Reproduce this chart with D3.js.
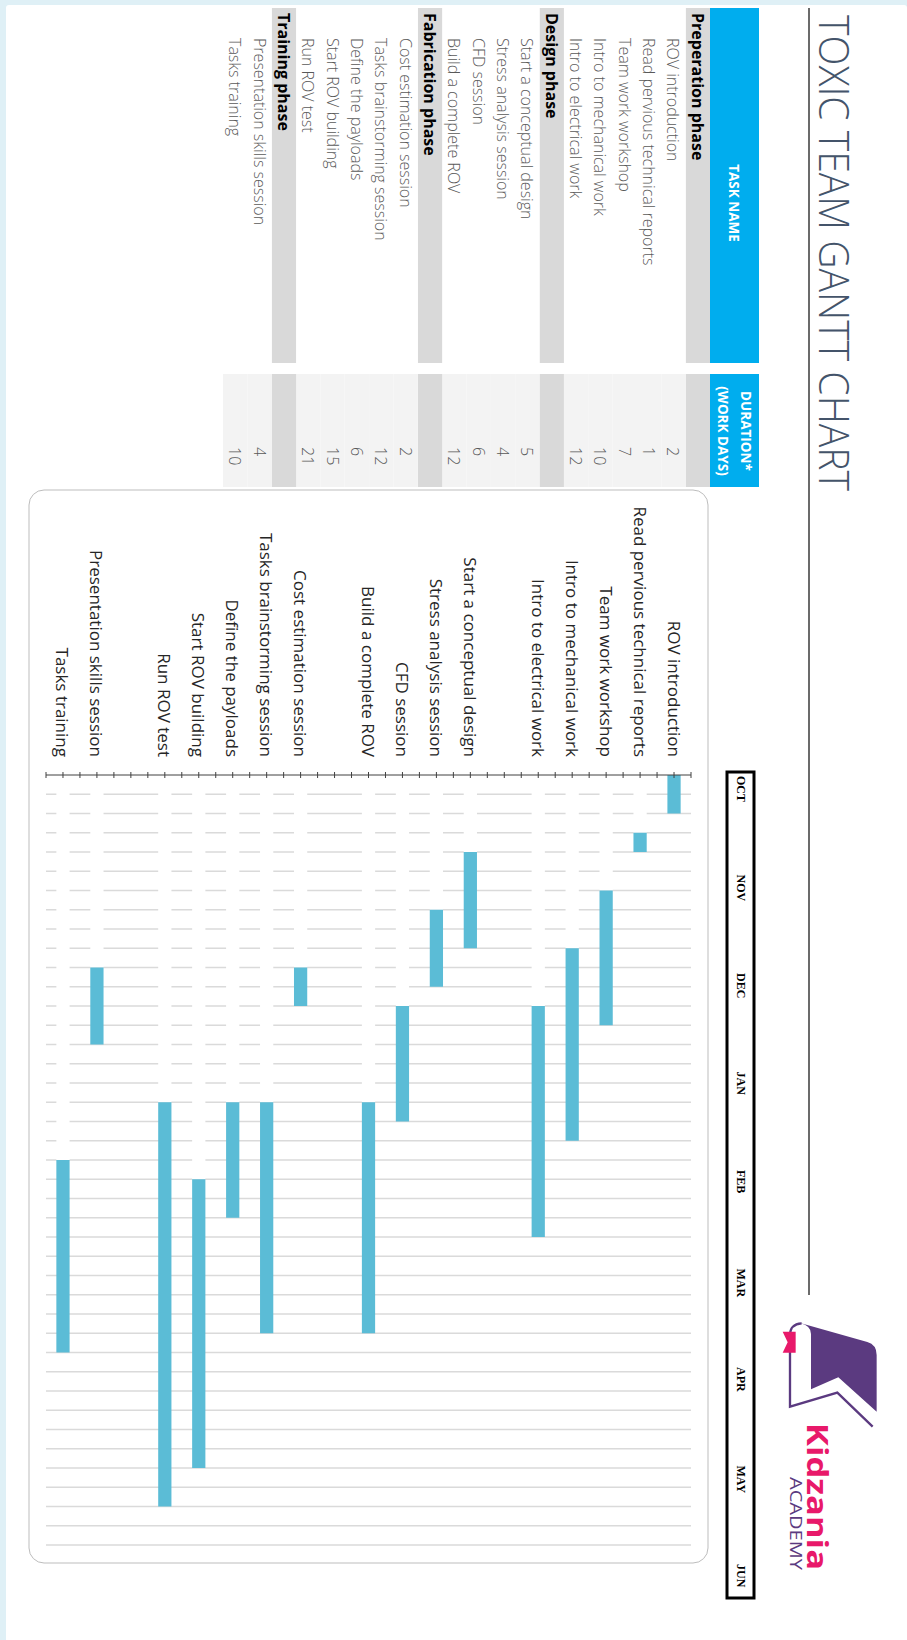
<!DOCTYPE html>
<html>
<head>
<meta charset="utf-8">
<script src="https://cdn.jsdelivr.net/npm/d3@7"></script>
<style>
  html, body { margin: 0; padding: 0; background: #dff0f6; }
  svg { display: block; }
</style>
</head>
<body>
<svg id="chart" width="907" height="1640"></svg>
<script>
// ---- data ----
const phaseNames = ["Preperation phase", "Design phase", "Fabrication phase", "Training phase"];
const phaseTaskCounts = [5, 4, 5, 2];
const taskNames = [
  "ROV introduction", "Read pervious technical reports", "Team work workshop",
  "Intro to mechanical work", "Intro to electrical work",
  "Start a conceptual design", "Stress analysis session", "CFD session", "Build a complete ROV",
  "Cost estimation session", "Tasks brainstorming session", "Define the payloads",
  "Start ROV building", "Run ROV test",
  "Presentation skills session", "Tasks training"
];
const durations = [2, 1, 7, 10, 12, 5, 4, 6, 12, 2, 12, 6, 15, 21, 4, 10];
const startDays = [0, 3, 6, 9, 12, 4, 7, 12, 17, 10, 17, 17, 21, 17, 10, 20];
const monthLabels = ["OCT", "NOV", "DEC", "JAN", "FEB", "MAR", "APR", "MAY", "JUN"];
const dayDomain = [0, 40];

// ---- page ----
const W = 907, H = 1640;
const svg = d3.select("#chart");
svg.append("rect").attr("width", W).attr("height", H).attr("fill", "#dff0f6");

// The sheet is laid out in landscape and turned a quarter clockwise onto the page.
const sheet = svg.append("g").attr("transform", `translate(${W},0) rotate(90)`);
sheet.append("rect")
  .attr("x", 5).attr("y", 0).attr("width", H).attr("height", W - 6)
  .attr("rx", 3).attr("fill", "#ffffff");

const FONT = "'Open Sans', 'Noto Sans', sans-serif";

// ---- title ----
sheet.append("text")
  .attr("x", 15).attr("y", 88)
  .attr("font-family", FONT).attr("font-weight", 300)
  .attr("font-size", 42).attr("fill", "#44546a")
  .attr("textLength", 476).attr("lengthAdjust", "spacingAndGlyphs")
  .text("TOXIC TEAM GANTT CHART");
sheet.append("line")
  .attr("x1", 8).attr("x2", 1295).attr("y1", 98).attr("y2", 98)
  .attr("stroke", "#3a3a3a").attr("stroke-width", 1.5);

// ---- task table ----
const tableRows = [];
{
  let t = 0;
  phaseNames.forEach((p, i) => {
    tableRows.push({ type: "phase", name: p });
    for (let k = 0; k < phaseTaskCounts[i]; k++, t++) {
      tableRows.push({ type: "task", name: taskNames[t], dur: durations[t] });
    }
  });
}
tableRows.forEach((r, i) => { r.row = i; });
const nameCol = { x: 8, w: 355 };
const durCol = { x: 374, w: 113 };
const rowY = d3.scaleBand().domain(d3.range(tableRows.length)).range([197, 684]).padding(0);
const rowMid = i => rowY(i) + rowY.bandwidth() / 2;

const table = sheet.append("g");
// header
[nameCol, durCol].forEach(c => {
  table.append("rect").attr("x", c.x).attr("y", 148).attr("width", c.w).attr("height", 49)
    .attr("fill", "#00adee");
});
const headText = (x, y, s) => table.append("text")
  .attr("x", x).attr("y", y).attr("dominant-baseline", "central")
  .attr("text-anchor", "middle").attr("font-family", FONT).attr("font-weight", 700)
  .attr("font-size", 13.5).attr("fill", "#ffffff").text(s);
headText(203, 173, "TASK NAME");
headText(431, 161, "DURATION*");
headText(431, 184, "(WORK DAYS)");

// body rows
const rows = table.selectAll("g.row").data(tableRows).join("g").attr("class", "row");
rows.append("rect")
  .attr("x", nameCol.x).attr("width", nameCol.w)
  .attr("y", d => rowY(d.row)).attr("height", rowY.bandwidth())
  .attr("fill", d => d.type === "phase" ? "#d9d9d9" : "#ffffff");
rows.append("rect")
  .attr("x", durCol.x).attr("width", durCol.w)
  .attr("y", d => rowY(d.row)).attr("height", rowY.bandwidth())
  .attr("fill", d => d.type === "phase" ? "#d9d9d9" : "#f3f3f3");
rows.append("text")
  .attr("x", d => d.type === "phase" ? 13 : 38)
  .attr("y", d => rowMid(d.row))
  .attr("dominant-baseline", "central")
  .attr("font-family", FONT)
  .attr("font-weight", d => d.type === "phase" ? 700 : 300)
  .attr("font-size", 16)
  .attr("fill", d => d.type === "phase" ? "#000000" : "#595959")
  .text(d => d.name);
rows.filter(d => d.type === "task").append("text")
  .attr("x", 447)
  .attr("y", d => rowMid(d.row))
  .attr("dominant-baseline", "central")
  .attr("font-family", FONT).attr("font-weight", 300)
  .attr("font-size", 16).attr("fill", "#595959")
  .text(d => d.dur);

// ---- gantt chart ----
const chartRows = [];
{
  let t = 0;
  phaseTaskCounts.forEach((n, i) => {
    if (i > 0) chartRows.push({ label: "", start: null, dur: null });
    for (let k = 0; k < n; k++, t++) {
      chartRows.push({ label: taskNames[t], start: startDays[t], dur: durations[t] });
    }
  });
}

sheet.append("rect")
  .attr("x", 490).attr("y", 199).attr("width", 1073).attr("height", 679)
  .attr("rx", 15).attr("ry", 15)
  .attr("fill", "#ffffff").attr("stroke", "#bdbdbd").attr("stroke-width", 1);

const x = d3.scaleLinear().domain(dayDomain).range([775, 1545]);
const y = d3.scaleBand().domain(d3.range(chartRows.length)).range([216, 861]).padding(0);
const barW = y.bandwidth() * 0.39;
const barY = i => y(i) + (y.bandwidth() - barW) / 2;

const plot = sheet.append("g");
// gridlines
plot.selectAll("line.grid").data(x.ticks(dayDomain[1]).filter(v => v > 0)).join("line")
  .attr("class", "grid")
  .attr("x1", d => x(d)).attr("x2", d => x(d))
  .attr("y1", y.range()[0]).attr("y2", y.range()[1])
  .attr("stroke", "#dadada").attr("stroke-width", 1.3);

const tasksOnly = chartRows.map((d, i) => ({ ...d, i })).filter(d => d.start !== null);
// start offset series (white, hides gridlines)
plot.selectAll("rect.offset").data(tasksOnly).join("rect")
  .attr("class", "offset")
  .attr("x", x(0)).attr("width", d => x(d.start) - x(0))
  .attr("y", d => barY(d.i)).attr("height", barW)
  .attr("fill", "#ffffff");
// duration series
plot.selectAll("rect.bar").data(tasksOnly).join("rect")
  .attr("class", "bar")
  .attr("x", d => x(d.start)).attr("width", d => x(d.start + d.dur) - x(d.start))
  .attr("y", d => barY(d.i)).attr("height", barW)
  .attr("fill", "#5bbcd6");

// category axis
plot.append("line")
  .attr("x1", x(0)).attr("x2", x(0))
  .attr("y1", y.range()[0]).attr("y2", y.range()[1])
  .attr("stroke", "#404040").attr("stroke-width", 1);
const half = y.step() / 2;
plot.selectAll("line.tick").data(d3.range(chartRows.length * 2 + 1)).join("line")
  .attr("class", "tick")
  .attr("x1", x(0) - 3).attr("x2", x(0) + 3)
  .attr("y1", k => y.range()[0] + k * half).attr("y2", k => y.range()[0] + k * half)
  .attr("stroke", "#404040").attr("stroke-width", 1);
plot.selectAll("text.cat").data(chartRows).join("text")
  .attr("class", "cat")
  .attr("x", 757).attr("y", (d, i) => y(i) + y.bandwidth() / 2)
  .attr("dominant-baseline", "central").attr("text-anchor", "end")
  .attr("font-family", FONT).attr("font-size", 17).attr("fill", "#262626")
  .text(d => d.label);

// month strip
const m = d3.scalePoint().domain(monthLabels).range([775, 1563]);
sheet.append("rect")
  .attr("x", 772).attr("y", 153).attr("width", 826).attr("height", 27)
  .attr("fill", "#ffffff").attr("stroke", "#000000").attr("stroke-width", 3);
sheet.selectAll("text.month").data(monthLabels).join("text")
  .attr("class", "month")
  .attr("x", d => m(d) + 1).attr("y", 166.5)
  .attr("dominant-baseline", "central")
  .attr("font-family", "'Liberation Serif', 'DejaVu Serif', serif")
  .attr("font-weight", 700).attr("font-size", 12).attr("fill", "#000000")
  .text(d => d);

// ---- logo ----
const logo = svg.append("g").attr("transform", "translate(740,1260) scale(0.3333)");
logo.append("path")
  .attr("d", "M183,190 L382,246 Q410,254 410,285 L410,455 L295,352 L213,388 L213,222 Q213,198 183,190 Z")
  .attr("fill", "#5b3a80");
logo.append("path")
  .attr("d", "M185,190 Q150,192 150,226 L150,440 L292,398 L398,500")
  .attr("fill", "none").attr("stroke", "#5b3a80").attr("stroke-width", 7)
  .attr("stroke-linejoin", "miter");
logo.append("path")
  .attr("d", "M167,215 L167,278 L128,278 L143,247 L128,215 Z")
  .attr("fill", "#e8196a");
sheet.append("text")
  .attr("x", 1423).attr("y", 100)
  .attr("font-family", FONT).attr("font-weight", 700)
  .attr("font-size", 29).attr("fill", "#e8196a")
  .attr("textLength", 147).attr("lengthAdjust", "spacingAndGlyphs")
  .text("Kidzania");
sheet.append("text")
  .attr("x", 1477).attr("y", 117)
  .attr("font-family", FONT).attr("font-weight", 400)
  .attr("font-size", 17).attr("fill", "#5b3a80")
  .attr("textLength", 93).attr("lengthAdjust", "spacingAndGlyphs")
  .text("ACADEMY");
</script>
</body>
</html>
